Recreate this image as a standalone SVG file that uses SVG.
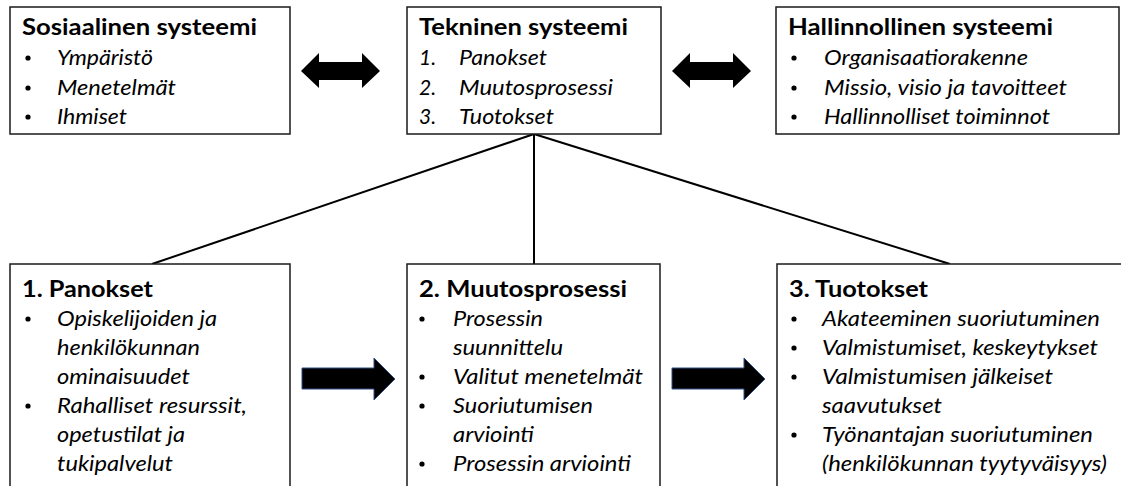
<svg xmlns="http://www.w3.org/2000/svg" width="1121" height="486" viewBox="0 0 1121 486">
  <style>
    .box { fill: #ffffff; stroke: #1a1a1a; stroke-width: 1.5; }
    .title { font-family: Lato, "Open Sans", sans-serif; font-weight: bold; font-size: 22px; fill: #000; }
    .item { font-family: Lato, "Open Sans", sans-serif; font-style: italic; font-size: 21px; fill: #000; }
    .num { font-family: Lato, "Open Sans", sans-serif; font-style: italic; font-size: 21px; fill: #000; }
    .link { stroke: #000; stroke-width: 2; fill: none; }
    .dbl { fill: #000; }
    .flow { fill: #000; stroke: #2f4f86; stroke-width: 1; }
  </style>
  <defs>
    <circle id="dot" r="2.6" fill="#000"/>
  </defs>

  <rect width="1121" height="486" fill="#fff"/>

  <!-- connectors -->
  <g id="connectors">
    <line class="link" x1="534" y1="134" x2="152" y2="264"/>
    <line class="link" x1="534" y1="134" x2="534" y2="264"/>
    <line class="link" x1="534" y1="134" x2="950" y2="264"/>
    <!-- two-way arrows between the top systems -->
    <path class="dbl" d="M301,71 L319,53 L319,62 L362,62 L362,53 L380,71 L362,88 L362,80 L319,80 L319,88 Z"/>
    <path class="dbl" d="M672,71 L690,53 L690,62 L733,62 L733,53 L751,71 L733,88 L733,80 L690,80 L690,88 Z"/>
    <!-- process flow arrows -->
    <path class="flow" d="M302,368 L374,368 L374,358 L395,379 L374,400 L374,389 L302,389 Z"/>
    <path class="flow" d="M672,368 L744,368 L744,358 L765,379 L744,400 L744,389 L672,389 Z"/>
  </g>

  <!-- Sosiaalinen systeemi -->
  <g id="sosiaalinen">
    <rect class="box" x="10" y="7" width="280" height="127"/>
    <text class="title" x="22" y="35" textLength="235" lengthAdjust="spacingAndGlyphs">Sosiaalinen systeemi</text>
    <use href="#dot" x="28" y="58"/>
    <use href="#dot" x="28" y="88"/>
    <use href="#dot" x="28" y="117"/>
    <text class="item" x="57" y="65" textLength="96" lengthAdjust="spacingAndGlyphs">Ympäristö</text>
    <text class="item" x="57" y="95" textLength="119" lengthAdjust="spacingAndGlyphs">Menetelmät</text>
    <text class="item" x="57" y="124" textLength="70" lengthAdjust="spacingAndGlyphs">Ihmiset</text>
  </g>

  <!-- Tekninen systeemi -->
  <g id="tekninen">
    <rect class="box" x="407" y="7" width="254" height="127"/>
    <text class="title" x="419" y="35" textLength="209" lengthAdjust="spacingAndGlyphs">Tekninen systeemi</text>
    <text class="num" x="419" y="65">1.</text>
    <text class="num" x="419" y="95">2.</text>
    <text class="num" x="419" y="124">3.</text>
    <text class="item" x="459" y="65" textLength="88" lengthAdjust="spacingAndGlyphs">Panokset</text>
    <text class="item" x="459" y="95" textLength="154" lengthAdjust="spacingAndGlyphs">Muutosprosessi</text>
    <text class="item" x="459" y="124" textLength="95" lengthAdjust="spacingAndGlyphs">Tuotokset</text>
  </g>

  <!-- Hallinnollinen systeemi -->
  <g id="hallinnollinen">
    <rect class="box" x="776" y="7" width="343" height="127"/>
    <text class="title" x="788" y="35" textLength="265" lengthAdjust="spacingAndGlyphs">Hallinnollinen systeemi</text>
    <use href="#dot" x="794" y="58"/>
    <use href="#dot" x="794" y="88"/>
    <use href="#dot" x="794" y="117"/>
    <text class="item" x="824" y="65" textLength="204" lengthAdjust="spacingAndGlyphs">Organisaatiorakenne</text>
    <text class="item" x="824" y="95" textLength="243" lengthAdjust="spacingAndGlyphs">Missio, visio ja tavoitteet</text>
    <text class="item" x="824" y="124" textLength="226" lengthAdjust="spacingAndGlyphs">Hallinnolliset toiminnot</text>
  </g>

  <!-- 1. Panokset -->
  <g id="panokset">
    <rect class="box" x="10" y="264" width="280" height="230"/>
    <text class="title" x="22" y="297" textLength="131" lengthAdjust="spacingAndGlyphs">1. Panokset</text>
    <use href="#dot" x="28" y="319"/>
    <use href="#dot" x="28" y="406"/>
    <text class="item" x="57" y="326" textLength="160" lengthAdjust="spacingAndGlyphs">Opiskelijoiden ja</text>
    <text class="item" x="57" y="355" textLength="143" lengthAdjust="spacingAndGlyphs">henkilökunnan</text>
    <text class="item" x="57" y="384" textLength="133" lengthAdjust="spacingAndGlyphs">ominaisuudet</text>
    <text class="item" x="57" y="413" textLength="190" lengthAdjust="spacingAndGlyphs">Rahalliset resurssit,</text>
    <text class="item" x="57" y="442" textLength="128" lengthAdjust="spacingAndGlyphs">opetustilat ja</text>
    <text class="item" x="57" y="471" textLength="116" lengthAdjust="spacingAndGlyphs">tukipalvelut</text>
  </g>

  <!-- 2. Muutosprosessi -->
  <g id="muutosprosessi">
    <rect class="box" x="407" y="264" width="253" height="230"/>
    <text class="title" x="419" y="297" textLength="208" lengthAdjust="spacingAndGlyphs">2. Muutosprosessi</text>
    <use href="#dot" x="422" y="319"/>
    <use href="#dot" x="422" y="377"/>
    <use href="#dot" x="422" y="406"/>
    <use href="#dot" x="422" y="464"/>
    <text class="item" x="453" y="326" textLength="90" lengthAdjust="spacingAndGlyphs">Prosessin</text>
    <text class="item" x="453" y="355" textLength="110" lengthAdjust="spacingAndGlyphs">suunnittelu</text>
    <text class="item" x="453" y="384" textLength="190" lengthAdjust="spacingAndGlyphs">Valitut menetelmät</text>
    <text class="item" x="453" y="413" textLength="140" lengthAdjust="spacingAndGlyphs">Suoriutumisen</text>
    <text class="item" x="453" y="442" textLength="81" lengthAdjust="spacingAndGlyphs">arviointi</text>
    <text class="item" x="453" y="471" textLength="178" lengthAdjust="spacingAndGlyphs">Prosessin arviointi</text>
  </g>

  <!-- 3. Tuotokset -->
  <g id="tuotokset">
    <rect class="box" x="777" y="264" width="360" height="230"/>
    <text class="title" x="789" y="297" textLength="139" lengthAdjust="spacingAndGlyphs">3. Tuotokset</text>
    <use href="#dot" x="794" y="319"/>
    <use href="#dot" x="794" y="348"/>
    <use href="#dot" x="794" y="377"/>
    <use href="#dot" x="794" y="435"/>
    <text class="item" x="822" y="326" textLength="278" lengthAdjust="spacingAndGlyphs">Akateeminen suoriutuminen</text>
    <text class="item" x="822" y="355" textLength="276" lengthAdjust="spacingAndGlyphs">Valmistumiset, keskeytykset</text>
    <text class="item" x="822" y="384" textLength="231" lengthAdjust="spacingAndGlyphs">Valmistumisen jälkeiset</text>
    <text class="item" x="822" y="413" textLength="120" lengthAdjust="spacingAndGlyphs">saavutukset</text>
    <text class="item" x="822" y="442" textLength="271" lengthAdjust="spacingAndGlyphs">Työnantajan suoriutuminen</text>
    <text class="item" x="822" y="471" textLength="285" lengthAdjust="spacingAndGlyphs">(henkilökunnan tyytyväisyys)</text>
  </g>
</svg>
